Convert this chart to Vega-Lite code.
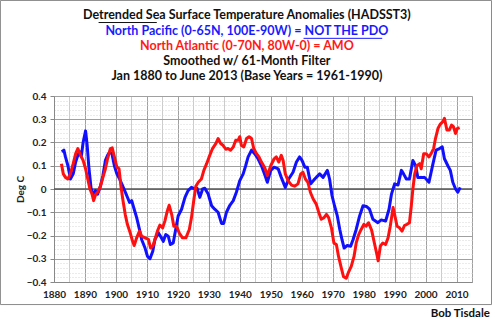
{
  "$schema": "https://vega.github.io/schema/vega-lite/v6.json",
  "width": 418,
  "height": 186,
  "autosize": {"type": "none"},
  "padding": {"left": 54, "top": 96, "right": 24, "bottom": 39},
  "background": "#ffffff",
  "config": {"view": {"stroke": null}, "font": "Lato"},
  "resolve": {"axis": {"x": "independent", "y": "independent"}},
  "datasets": {
    "sst": [
      {"series":"North Pacific","year":1882.5,"anomaly":0.16},
      {"series":"North Pacific","year":1883.2,"anomaly":0.167},
      {"series":"North Pacific","year":1883.7,"anomaly":0.138},
      {"series":"North Pacific","year":1884.5,"anomaly":0.10},
      {"series":"North Pacific","year":1885.3,"anomaly":0.043},
      {"series":"North Pacific","year":1886.2,"anomaly":0.065},
      {"series":"North Pacific","year":1887.0,"anomaly":0.116},
      {"series":"North Pacific","year":1887.7,"anomaly":0.145},
      {"series":"North Pacific","year":1888.3,"anomaly":0.160},
      {"series":"North Pacific","year":1888.8,"anomaly":0.138},
      {"series":"North Pacific","year":1889.4,"anomaly":0.200},
      {"series":"North Pacific","year":1890.2,"anomaly":0.250},
      {"series":"North Pacific","year":1890.7,"anomaly":0.190},
      {"series":"North Pacific","year":1891.3,"anomaly":0.087},
      {"series":"North Pacific","year":1892.0,"anomaly":0.0},
      {"series":"North Pacific","year":1892.6,"anomaly":-0.022},
      {"series":"North Pacific","year":1893.4,"anomaly":-0.007},
      {"series":"North Pacific","year":1894.1,"anomaly":-0.022},
      {"series":"North Pacific","year":1895.0,"anomaly":0.012},
      {"series":"North Pacific","year":1895.8,"anomaly":0.058},
      {"series":"North Pacific","year":1896.6,"anomaly":0.123},
      {"series":"North Pacific","year":1897.3,"anomaly":0.145},
      {"series":"North Pacific","year":1898.0,"anomaly":0.160},
      {"series":"North Pacific","year":1898.7,"anomaly":0.152},
      {"series":"North Pacific","year":1899.5,"anomaly":0.100},
      {"series":"North Pacific","year":1900.3,"anomaly":0.065},
      {"series":"North Pacific","year":1901.2,"anomaly":0.043},
      {"series":"North Pacific","year":1902.2,"anomaly":0.012},
      {"series":"North Pacific","year":1903.3,"anomaly":-0.022},
      {"series":"North Pacific","year":1904.4,"anomaly":-0.058},
      {"series":"North Pacific","year":1905.1,"anomaly":-0.050},
      {"series":"North Pacific","year":1905.9,"anomaly":-0.087},
      {"series":"North Pacific","year":1906.7,"anomaly":-0.123},
      {"series":"North Pacific","year":1907.6,"anomaly":-0.174},
      {"series":"North Pacific","year":1908.3,"anomaly":-0.217},
      {"series":"North Pacific","year":1909.4,"anomaly":-0.254},
      {"series":"North Pacific","year":1910.2,"anomaly":-0.290},
      {"series":"North Pacific","year":1911.0,"anomaly":-0.300},
      {"series":"North Pacific","year":1911.9,"anomaly":-0.268},
      {"series":"North Pacific","year":1912.6,"anomaly":-0.217},
      {"series":"North Pacific","year":1913.7,"anomaly":-0.188},
      {"series":"North Pacific","year":1914.4,"anomaly":-0.203},
      {"series":"North Pacific","year":1915.3,"anomaly":-0.225},
      {"series":"North Pacific","year":1916.1,"anomaly":-0.196},
      {"series":"North Pacific","year":1916.9,"anomaly":-0.203},
      {"series":"North Pacific","year":1917.6,"anomaly":-0.239},
      {"series":"North Pacific","year":1918.5,"anomaly":-0.232},
      {"series":"North Pacific","year":1919.4,"anomaly":-0.167},
      {"series":"North Pacific","year":1920.1,"anomaly":-0.116},
      {"series":"North Pacific","year":1921.2,"anomaly":-0.087},
      {"series":"North Pacific","year":1922.3,"anomaly":-0.036},
      {"series":"North Pacific","year":1923.3,"anomaly":-0.007},
      {"series":"North Pacific","year":1924.4,"anomaly":0.007},
      {"series":"North Pacific","year":1925.5,"anomaly":0.0},
      {"series":"North Pacific","year":1926.2,"anomaly":0.003},
      {"series":"North Pacific","year":1927.1,"anomaly":-0.036},
      {"series":"North Pacific","year":1928.0,"anomaly":0.0},
      {"series":"North Pacific","year":1928.7,"anomaly":0.003},
      {"series":"North Pacific","year":1929.8,"anomaly":-0.022},
      {"series":"North Pacific","year":1930.9,"anomaly":-0.072},
      {"series":"North Pacific","year":1931.9,"anomaly":-0.087},
      {"series":"North Pacific","year":1933.0,"anomaly":-0.100},
      {"series":"North Pacific","year":1934.1,"anomaly":-0.148},
      {"series":"North Pacific","year":1934.8,"anomaly":-0.148},
      {"series":"North Pacific","year":1935.7,"anomaly":-0.100},
      {"series":"North Pacific","year":1936.8,"anomaly":-0.070},
      {"series":"North Pacific","year":1937.9,"anomaly":-0.050},
      {"series":"North Pacific","year":1938.9,"anomaly":-0.014},
      {"series":"North Pacific","year":1940.0,"anomaly":0.036},
      {"series":"North Pacific","year":1941.1,"anomaly":0.065},
      {"series":"North Pacific","year":1941.9,"anomaly":0.100},
      {"series":"North Pacific","year":1942.7,"anomaly":0.138},
      {"series":"North Pacific","year":1943.8,"anomaly":0.167},
      {"series":"North Pacific","year":1944.8,"anomaly":0.152},
      {"series":"North Pacific","year":1945.9,"anomaly":0.130},
      {"series":"North Pacific","year":1947.0,"anomaly":0.100},
      {"series":"North Pacific","year":1948.1,"anomaly":0.060},
      {"series":"North Pacific","year":1948.9,"anomaly":0.029},
      {"series":"North Pacific","year":1950.0,"anomaly":0.080},
      {"series":"North Pacific","year":1951.1,"anomaly":0.094},
      {"series":"North Pacific","year":1952.4,"anomaly":0.087},
      {"series":"North Pacific","year":1953.4,"anomaly":0.050},
      {"series":"North Pacific","year":1954.7,"anomaly":0.007},
      {"series":"North Pacific","year":1955.8,"anomaly":0.043},
      {"series":"North Pacific","year":1957.2,"anomaly":0.072},
      {"series":"North Pacific","year":1958.3,"anomaly":0.116},
      {"series":"North Pacific","year":1959.3,"anomaly":0.138},
      {"series":"North Pacific","year":1960.1,"anomaly":0.123},
      {"series":"North Pacific","year":1961.0,"anomaly":0.094},
      {"series":"North Pacific","year":1961.8,"anomaly":0.094},
      {"series":"North Pacific","year":1962.9,"anomaly":0.022},
      {"series":"North Pacific","year":1964.2,"anomaly":0.043},
      {"series":"North Pacific","year":1965.8,"anomaly":0.065},
      {"series":"North Pacific","year":1966.9,"anomaly":0.050},
      {"series":"North Pacific","year":1968.3,"anomaly":0.080},
      {"series":"North Pacific","year":1969.0,"anomaly":0.043},
      {"series":"North Pacific","year":1969.8,"anomaly":-0.029},
      {"series":"North Pacific","year":1970.6,"anomaly":-0.072},
      {"series":"North Pacific","year":1971.5,"anomaly":-0.116},
      {"series":"North Pacific","year":1972.3,"anomaly":-0.174},
      {"series":"North Pacific","year":1973.0,"anomaly":-0.217},
      {"series":"North Pacific","year":1973.7,"anomaly":-0.254},
      {"series":"North Pacific","year":1974.7,"anomaly":-0.243},
      {"series":"North Pacific","year":1975.8,"anomaly":-0.246},
      {"series":"North Pacific","year":1976.6,"anomaly":-0.217},
      {"series":"North Pacific","year":1977.6,"anomaly":-0.174},
      {"series":"North Pacific","year":1978.7,"anomaly":-0.116},
      {"series":"North Pacific","year":1979.8,"anomaly":-0.072},
      {"series":"North Pacific","year":1980.9,"anomaly":-0.075},
      {"series":"North Pacific","year":1981.9,"anomaly":-0.087},
      {"series":"North Pacific","year":1983.0,"anomaly":-0.130},
      {"series":"North Pacific","year":1984.6,"anomaly":-0.145},
      {"series":"North Pacific","year":1985.7,"anomaly":-0.133},
      {"series":"North Pacific","year":1987.1,"anomaly":-0.138},
      {"series":"North Pacific","year":1988.2,"anomaly":-0.087},
      {"series":"North Pacific","year":1989.0,"anomaly":-0.022},
      {"series":"North Pacific","year":1990.0,"anomaly":0.022},
      {"series":"North Pacific","year":1991.1,"anomaly":0.017},
      {"series":"North Pacific","year":1992.2,"anomaly":0.080},
      {"series":"North Pacific","year":1992.9,"anomaly":0.065},
      {"series":"North Pacific","year":1993.8,"anomaly":0.043},
      {"series":"North Pacific","year":1994.8,"anomaly":0.043},
      {"series":"North Pacific","year":1995.9,"anomaly":0.123},
      {"series":"North Pacific","year":1996.8,"anomaly":0.100},
      {"series":"North Pacific","year":1997.5,"anomaly":0.050},
      {"series":"North Pacific","year":1998.6,"anomaly":0.050},
      {"series":"North Pacific","year":1999.7,"anomaly":0.050},
      {"series":"North Pacific","year":2001.1,"anomaly":0.029},
      {"series":"North Pacific","year":2002.4,"anomaly":0.109},
      {"series":"North Pacific","year":2003.4,"anomaly":0.167},
      {"series":"North Pacific","year":2004.5,"anomaly":0.174},
      {"series":"North Pacific","year":2005.4,"anomaly":0.181},
      {"series":"North Pacific","year":2006.1,"anomaly":0.130},
      {"series":"North Pacific","year":2007.2,"anomaly":0.100},
      {"series":"North Pacific","year":2008.0,"anomaly":0.080},
      {"series":"North Pacific","year":2008.8,"anomaly":0.029},
      {"series":"North Pacific","year":2009.7,"anomaly":0.0},
      {"series":"North Pacific","year":2010.4,"anomaly":-0.014},
      {"series":"North Pacific","year":2011.2,"anomaly":0.007},
      {"series":"North Atlantic","year":1882.4,"anomaly":0.109},
      {"series":"North Atlantic","year":1883.0,"anomaly":0.065},
      {"series":"North Atlantic","year":1883.7,"anomaly":0.050},
      {"series":"North Atlantic","year":1884.5,"anomaly":0.043},
      {"series":"North Atlantic","year":1885.3,"anomaly":0.065},
      {"series":"North Atlantic","year":1886.2,"anomaly":0.109},
      {"series":"North Atlantic","year":1887.0,"anomaly":0.152},
      {"series":"North Atlantic","year":1887.7,"anomaly":0.174},
      {"series":"North Atlantic","year":1888.6,"anomaly":0.145},
      {"series":"North Atlantic","year":1889.4,"anomaly":0.123},
      {"series":"North Atlantic","year":1890.2,"anomaly":0.087},
      {"series":"North Atlantic","year":1890.9,"anomaly":0.043},
      {"series":"North Atlantic","year":1891.6,"anomaly":0.0},
      {"series":"North Atlantic","year":1892.3,"anomaly":-0.022},
      {"series":"North Atlantic","year":1892.8,"anomaly":-0.050},
      {"series":"North Atlantic","year":1893.5,"anomaly":-0.022},
      {"series":"North Atlantic","year":1894.1,"anomaly":-0.014},
      {"series":"North Atlantic","year":1895.0,"anomaly":0.012},
      {"series":"North Atlantic","year":1895.8,"anomaly":0.050},
      {"series":"North Atlantic","year":1896.6,"anomaly":0.087},
      {"series":"North Atlantic","year":1897.3,"anomaly":0.130},
      {"series":"North Atlantic","year":1898.2,"anomaly":0.174},
      {"series":"North Atlantic","year":1898.8,"anomaly":0.177},
      {"series":"North Atlantic","year":1899.5,"anomaly":0.138},
      {"series":"North Atlantic","year":1900.3,"anomaly":0.094},
      {"series":"North Atlantic","year":1901.0,"anomaly":0.087},
      {"series":"North Atlantic","year":1901.6,"anomaly":0.014},
      {"series":"North Atlantic","year":1902.2,"anomaly":-0.043},
      {"series":"North Atlantic","year":1903.0,"anomaly":-0.109},
      {"series":"North Atlantic","year":1903.7,"anomaly":-0.152},
      {"series":"North Atlantic","year":1904.6,"anomaly":-0.188},
      {"series":"North Atlantic","year":1905.2,"anomaly":-0.217},
      {"series":"North Atlantic","year":1905.9,"anomaly":-0.243},
      {"series":"North Atlantic","year":1906.7,"anomaly":-0.210},
      {"series":"North Atlantic","year":1907.6,"anomaly":-0.181},
      {"series":"North Atlantic","year":1908.3,"anomaly":-0.203},
      {"series":"North Atlantic","year":1909.4,"anomaly":-0.210},
      {"series":"North Atlantic","year":1910.5,"anomaly":-0.217},
      {"series":"North Atlantic","year":1911.2,"anomaly":-0.254},
      {"series":"North Atlantic","year":1911.9,"anomaly":-0.246},
      {"series":"North Atlantic","year":1912.6,"anomaly":-0.217},
      {"series":"North Atlantic","year":1913.4,"anomaly":-0.181},
      {"series":"North Atlantic","year":1914.2,"anomaly":-0.155},
      {"series":"North Atlantic","year":1915.1,"anomaly":-0.167},
      {"series":"North Atlantic","year":1915.8,"anomaly":-0.138},
      {"series":"North Atlantic","year":1916.6,"anomaly":-0.094},
      {"series":"North Atlantic","year":1917.2,"anomaly":-0.070},
      {"series":"North Atlantic","year":1918.0,"anomaly":-0.109},
      {"series":"North Atlantic","year":1918.7,"anomaly":-0.160},
      {"series":"North Atlantic","year":1919.6,"anomaly":-0.160},
      {"series":"North Atlantic","year":1920.4,"anomaly":-0.188},
      {"series":"North Atlantic","year":1921.5,"anomaly":-0.210},
      {"series":"North Atlantic","year":1922.6,"anomaly":-0.210},
      {"series":"North Atlantic","year":1923.7,"anomaly":-0.174},
      {"series":"North Atlantic","year":1924.4,"anomaly":-0.123},
      {"series":"North Atlantic","year":1925.2,"anomaly":-0.043},
      {"series":"North Atlantic","year":1925.8,"anomaly":0.012},
      {"series":"North Atlantic","year":1926.6,"anomaly":0.029},
      {"series":"North Atlantic","year":1927.6,"anomaly":0.043},
      {"series":"North Atlantic","year":1928.4,"anomaly":0.080},
      {"series":"North Atlantic","year":1929.3,"anomaly":0.109},
      {"series":"North Atlantic","year":1930.1,"anomaly":0.138},
      {"series":"North Atlantic","year":1931.2,"anomaly":0.174},
      {"series":"North Atlantic","year":1932.3,"anomaly":0.196},
      {"series":"North Atlantic","year":1933.0,"anomaly":0.217},
      {"series":"North Atlantic","year":1933.8,"anomaly":0.196},
      {"series":"North Atlantic","year":1934.6,"anomaly":0.188},
      {"series":"North Atlantic","year":1935.5,"anomaly":0.171},
      {"series":"North Atlantic","year":1936.2,"anomaly":0.174},
      {"series":"North Atlantic","year":1937.0,"anomaly":0.167},
      {"series":"North Atlantic","year":1937.9,"anomaly":0.181},
      {"series":"North Atlantic","year":1938.7,"anomaly":0.210},
      {"series":"North Atlantic","year":1939.5,"anomaly":0.210},
      {"series":"North Atlantic","year":1940.0,"anomaly":0.225},
      {"series":"North Atlantic","year":1940.5,"anomaly":0.188},
      {"series":"North Atlantic","year":1941.3,"anomaly":0.181},
      {"series":"North Atlantic","year":1942.2,"anomaly":0.217},
      {"series":"North Atlantic","year":1943.0,"anomaly":0.225},
      {"series":"North Atlantic","year":1943.8,"anomaly":0.217},
      {"series":"North Atlantic","year":1944.5,"anomaly":0.174},
      {"series":"North Atlantic","year":1945.4,"anomaly":0.152},
      {"series":"North Atlantic","year":1946.2,"anomaly":0.138},
      {"series":"North Atlantic","year":1947.0,"anomaly":0.116},
      {"series":"North Atlantic","year":1948.1,"anomaly":0.090},
      {"series":"North Atlantic","year":1948.9,"anomaly":0.058},
      {"series":"North Atlantic","year":1950.0,"anomaly":0.100},
      {"series":"North Atlantic","year":1951.1,"anomaly":0.130},
      {"series":"North Atlantic","year":1951.8,"anomaly":0.138},
      {"series":"North Atlantic","year":1952.6,"anomaly":0.116},
      {"series":"North Atlantic","year":1953.4,"anomaly":0.145},
      {"series":"North Atlantic","year":1954.0,"anomaly":0.123},
      {"series":"North Atlantic","year":1954.7,"anomaly":0.065},
      {"series":"North Atlantic","year":1955.6,"anomaly":0.036},
      {"series":"North Atlantic","year":1956.7,"anomaly":0.017},
      {"series":"North Atlantic","year":1957.7,"anomaly":0.012},
      {"series":"North Atlantic","year":1958.8,"anomaly":0.022},
      {"series":"North Atlantic","year":1959.7,"anomaly":0.065},
      {"series":"North Atlantic","year":1960.4,"anomaly":0.072},
      {"series":"North Atlantic","year":1961.2,"anomaly":0.043},
      {"series":"North Atlantic","year":1962.0,"anomaly":0.029},
      {"series":"North Atlantic","year":1962.8,"anomaly":-0.014},
      {"series":"North Atlantic","year":1963.7,"anomaly":-0.043},
      {"series":"North Atlantic","year":1964.7,"anomaly":-0.065},
      {"series":"North Atlantic","year":1965.5,"anomaly":-0.100},
      {"series":"North Atlantic","year":1966.3,"anomaly":-0.130},
      {"series":"North Atlantic","year":1967.2,"anomaly":-0.123},
      {"series":"North Atlantic","year":1968.0,"anomaly":-0.109},
      {"series":"North Atlantic","year":1968.7,"anomaly":-0.123},
      {"series":"North Atlantic","year":1969.6,"anomaly":-0.167},
      {"series":"North Atlantic","year":1970.4,"anomaly":-0.232},
      {"series":"North Atlantic","year":1971.2,"anomaly":-0.239},
      {"series":"North Atlantic","year":1971.9,"anomaly":-0.290},
      {"series":"North Atlantic","year":1972.8,"anomaly":-0.340},
      {"series":"North Atlantic","year":1973.5,"anomaly":-0.377},
      {"series":"North Atlantic","year":1974.4,"anomaly":-0.384},
      {"series":"North Atlantic","year":1975.2,"anomaly":-0.355},
      {"series":"North Atlantic","year":1976.0,"anomaly":-0.333},
      {"series":"North Atlantic","year":1976.9,"anomaly":-0.290},
      {"series":"North Atlantic","year":1977.6,"anomaly":-0.232},
      {"series":"North Atlantic","year":1978.4,"anomaly":-0.196},
      {"series":"North Atlantic","year":1979.2,"anomaly":-0.174},
      {"series":"North Atlantic","year":1980.1,"anomaly":-0.152},
      {"series":"North Atlantic","year":1980.8,"anomaly":-0.160},
      {"series":"North Atlantic","year":1981.6,"anomaly":-0.145},
      {"series":"North Atlantic","year":1982.6,"anomaly":-0.178},
      {"series":"North Atlantic","year":1983.4,"anomaly":-0.228},
      {"series":"North Atlantic","year":1984.3,"anomaly":-0.283},
      {"series":"North Atlantic","year":1984.7,"anomaly":-0.309},
      {"series":"North Atlantic","year":1985.4,"anomaly":-0.246},
      {"series":"North Atlantic","year":1986.2,"anomaly":-0.232},
      {"series":"North Atlantic","year":1987.1,"anomaly":-0.239},
      {"series":"North Atlantic","year":1987.9,"anomaly":-0.210},
      {"series":"North Atlantic","year":1988.6,"anomaly":-0.160},
      {"series":"North Atlantic","year":1989.5,"anomaly":-0.080},
      {"series":"North Atlantic","year":1990.0,"anomaly":-0.109},
      {"series":"North Atlantic","year":1990.8,"anomaly":-0.160},
      {"series":"North Atlantic","year":1991.6,"anomaly":-0.167},
      {"series":"North Atlantic","year":1992.4,"anomaly":-0.181},
      {"series":"North Atlantic","year":1993.2,"anomaly":-0.157},
      {"series":"North Atlantic","year":1994.0,"anomaly":-0.152},
      {"series":"North Atlantic","year":1994.8,"anomaly":-0.145},
      {"series":"North Atlantic","year":1995.4,"anomaly":-0.072},
      {"series":"North Atlantic","year":1995.9,"anomaly":0.0},
      {"series":"North Atlantic","year":1996.5,"anomaly":0.065},
      {"series":"North Atlantic","year":1997.2,"anomaly":0.100},
      {"series":"North Atlantic","year":1998.1,"anomaly":0.109},
      {"series":"North Atlantic","year":1998.6,"anomaly":0.087},
      {"series":"North Atlantic","year":1999.4,"anomaly":0.152},
      {"series":"North Atlantic","year":2000.2,"anomaly":0.152},
      {"series":"North Atlantic","year":2001.1,"anomaly":0.138},
      {"series":"North Atlantic","year":2001.8,"anomaly":0.152},
      {"series":"North Atlantic","year":2002.6,"anomaly":0.174},
      {"series":"North Atlantic","year":2003.2,"anomaly":0.217},
      {"series":"North Atlantic","year":2004.0,"anomaly":0.260},
      {"series":"North Atlantic","year":2004.7,"anomaly":0.278},
      {"series":"North Atlantic","year":2005.6,"anomaly":0.290},
      {"series":"North Atlantic","year":2006.1,"anomaly":0.304},
      {"series":"North Atlantic","year":2006.9,"anomaly":0.254},
      {"series":"North Atlantic","year":2007.7,"anomaly":0.254},
      {"series":"North Atlantic","year":2008.4,"anomaly":0.275},
      {"series":"North Atlantic","year":2009.0,"anomaly":0.268},
      {"series":"North Atlantic","year":2009.7,"anomaly":0.239},
      {"series":"North Atlantic","year":2010.2,"anomaly":0.260},
      {"series":"North Atlantic","year":2011.0,"anomaly":0.264}
    ],
    "one": [{}]
  },
  "layer": [
    {
      "data": {"name": "one"},
      "mark": {"type": "rule", "color": "#555555", "strokeWidth": 1.5},
      "encoding": {
        "x": {"datum": 1880, "type": "quantitative", "scale": {"domain": [1880, 2015], "nice": false, "zero": false},
          "axis": {"orient": "bottom", "title": null, "values": [1880,1885,1890,1895,1900,1905,1910,1915,1920,1925,1930,1935,1940,1945,1950,1955,1960,1965,1970,1975,1980,1985,1990,1995,2000,2005,2010,2015],
            "labels": false, "ticks": false, "domain": false, "grid": true, "gridColor": "#cccccc", "gridWidth": 1}},
        "x2": {"datum": 2015},
        "y": {"datum": 0, "type": "quantitative", "scale": {"domain": [-0.4, 0.4], "nice": false, "zero": false},
          "axis": {"orient": "left", "title": null, "values": [-0.38,-0.36,-0.34,-0.32,-0.28,-0.26,-0.24,-0.22,-0.18,-0.16,-0.14,-0.12,-0.08,-0.06,-0.04,-0.02,0.02,0.04,0.06,0.08,0.12,0.14,0.16,0.18,0.22,0.24,0.26,0.28,0.32,0.34,0.36,0.38],
            "labels": false, "ticks": false, "domain": false, "grid": true, "gridColor": "#d6d6d6", "gridDash": [1, 2], "gridWidth": 1}}
      }
    },
    {
      "data": {"name": "sst"},
      "mark": {"type": "line", "strokeWidth": 3, "strokeJoin": "round", "strokeCap": "butt"},
      "encoding": {
        "x": {
          "field": "year", "type": "quantitative",
          "axis": {
            "orient": "bottom", "title": null,
            "values": [1880,1890,1900,1910,1920,1930,1940,1950,1960,1970,1980,1990,2000,2010,2015],
            "labelExpr": "datum.value > 2012 ? '' : datum.label",
            "format": "d",
            "labelFont": "Lato", "labelFontWeight": "bold", "labelFontSize": 10, "labelColor": "#222222",
            "labelPadding": 7, "ticks": false,
            "domainColor": "#888888",
            "grid": true, "gridColor": "#a0a0a0",
            "labelFlush": false, "labelOverlap": false
          }
        },
        "y": {
          "field": "anomaly", "type": "quantitative",
          "axis": {
            "orient": "left",
            "title": "Deg C",
            "titleFont": "Lato", "titleFontSize": 10, "titleFontWeight": "bold", "titleColor": "#222222",
            "titleX": -34, "titleY": 93, "titleAlign": "center", "titleBaseline": "middle", "titleAngle": -90,
            "values": [-0.4,-0.3,-0.2,-0.1,0,0.1,0.2,0.3,0.4],
            "labelExpr": "datum.value == 0 ? '0' : format(datum.value, '.1f')",
            "labelFont": "Lato", "labelFontWeight": "bold", "labelFontSize": 10, "labelColor": "#222222",
            "labelPadding": 4, "labelOverlap": false, "labelFlush": false,
            "domainColor": "#888888",
            "tickSize": 4, "tickColor": "#888888",
            "grid": true, "gridColor": "#a0a0a0"
          }
        },
        "color": {
          "field": "series", "type": "nominal",
          "scale": {"domain": ["North Atlantic", "North Pacific"], "range": ["#ff1010", "#1010ff"]},
          "legend": null
        },
        "order": {"field": "year", "type": "quantitative"}
      }
    },
    {
      "data": {"name": "one"},
      "mark": {"type": "rect", "fill": null, "fillOpacity": 0, "stroke": "#8a8a8a", "strokeWidth": 1},
      "encoding": {
        "x": {"datum": 1862.7, "type": "quantitative", "axis": null},
        "x2": {"datum": 2021.3},
        "y": {"datum": 0.811, "type": "quantitative", "axis": null},
        "y2": {"datum": -0.497}
      }
    },
    {
      "data": {"name": "one"},
      "mark": {"type": "text", "text": "Detrended Sea Surface Temperature Anomalies (HADSST3)", "font": "Lato", "fontSize": 12.5, "fontWeight": "bold", "color": "#111111", "align": "center", "baseline": "middle"},
      "encoding": {"x": {"datum": 1942.3, "type": "quantitative", "axis": null}, "y": {"datum": 0.748, "type": "quantitative", "axis": null}}
    },
    {
      "data": {"name": "one"},
      "mark": {"type": "text", "text": "North Pacific (0-65N, 100E-90W) = NOT THE PDO", "font": "Lato", "fontSize": 12.5, "fontWeight": "bold", "color": "#1a1aff", "align": "center", "baseline": "middle"},
      "encoding": {"x": {"datum": 1942.3, "type": "quantitative", "axis": null}, "y": {"datum": 0.68, "type": "quantitative", "axis": null}}
    },
    {
      "data": {"name": "one"},
      "mark": {"type": "text", "text": "North Atlantic (0-70N, 80W-0) = AMO", "font": "Lato", "fontSize": 12.5, "fontWeight": "bold", "color": "#ff1a1a", "align": "center", "baseline": "middle"},
      "encoding": {"x": {"datum": 1942.3, "type": "quantitative", "axis": null}, "y": {"datum": 0.615, "type": "quantitative", "axis": null}}
    },
    {
      "data": {"name": "one"},
      "mark": {"type": "text", "text": "Smoothed w/ 61-Month Filter", "font": "Lato", "fontSize": 12.5, "fontWeight": "bold", "color": "#111111", "align": "center", "baseline": "middle"},
      "encoding": {"x": {"datum": 1942.3, "type": "quantitative", "axis": null}, "y": {"datum": 0.551, "type": "quantitative", "axis": null}}
    },
    {
      "data": {"name": "one"},
      "mark": {"type": "text", "text": "Jan 1880 to June 2013 (Base Years = 1961-1990)", "font": "Lato", "fontSize": 12.5, "fontWeight": "bold", "color": "#111111", "align": "center", "baseline": "middle"},
      "encoding": {"x": {"datum": 1942.3, "type": "quantitative", "axis": null}, "y": {"datum": 0.486, "type": "quantitative", "axis": null}}
    },
    {
      "data": {"name": "one"},
      "mark": {"type": "rule", "color": "#111111", "strokeWidth": 1},
      "encoding": {"x": {"datum": 1894.4, "type": "quantitative", "axis": null}, "x2": {"datum": 1913.2}, "y": {"datum": 0.716, "type": "quantitative", "axis": null}}
    },
    {
      "data": {"name": "one"},
      "mark": {"type": "rule", "color": "#1a1aff", "strokeWidth": 1},
      "encoding": {"x": {"datum": 1960.6, "type": "quantitative", "axis": null}, "x2": {"datum": 1986.0}, "y": {"datum": 0.648, "type": "quantitative", "axis": null}}
    },
    {
      "data": {"name": "one"},
      "mark": {"type": "text", "text": "Bob Tisdale", "font": "Lato", "fontSize": 11.5, "fontWeight": "bold", "color": "#111111", "align": "right", "baseline": "middle"},
      "encoding": {"x": {"datum": 2020.8, "type": "quantitative", "axis": null}, "y": {"datum": -0.538, "type": "quantitative", "axis": null}}
    }
  ]
}
